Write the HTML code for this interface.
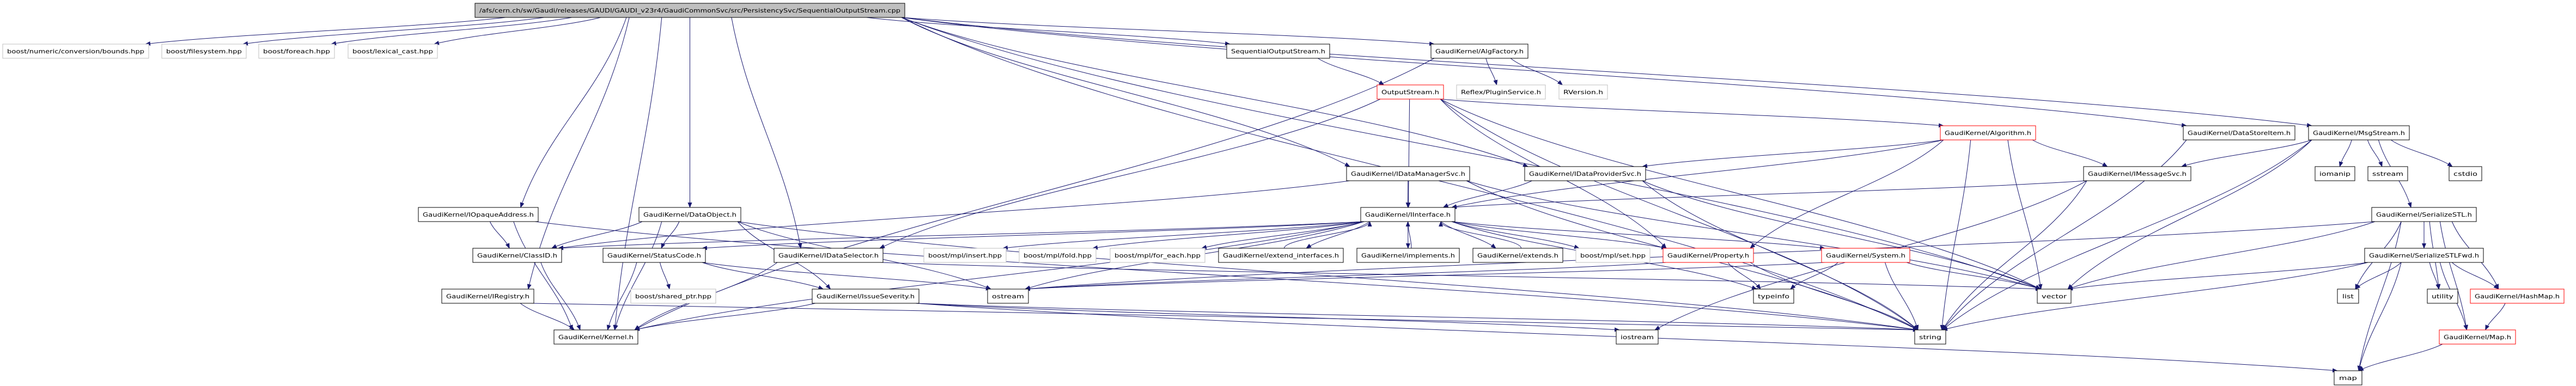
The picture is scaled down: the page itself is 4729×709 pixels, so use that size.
<!DOCTYPE html>
<html><head><meta charset="utf-8"><style>
html,body{margin:0;padding:0;background:#fff;}
svg{display:block;}
text{font-family:"DejaVu Sans","Liberation Sans",sans-serif;font-size:11px;fill:#000;}
</style></head><body>
<svg id="s" width="4729" height="709" viewBox="0 0 4729 709" xmlns="http://www.w3.org/2000/svg">
<defs><marker id="a" markerWidth="10" markerHeight="8" refX="9" refY="4" orient="auto" markerUnits="userSpaceOnUse"><path d="M0,0 L10,4 L0,8 Z" fill="#191970"/></marker></defs>
<g id="edges" fill="none" stroke="#191970" stroke-width="1"></g>
<g id="nodes">
<g id="top"><rect x="872" y="6" width="789" height="26" fill="#bfbfbf" stroke="#000"/><text x="880" y="23" textLength="773" lengthAdjust="spacingAndGlyphs">/afs/cern.ch/sw/Gaudi/releases/GAUDI/GAUDI_v23r4/GaudiCommonSvc/src/PersistencySvc/SequentialOutputStream.cpp</text></g>
<g id="bounds"><rect x="5" y="81" width="268" height="26" fill="#fff" stroke="#bfbfbf"/><text x="13" y="98" textLength="252" lengthAdjust="spacingAndGlyphs">boost/numeric/conversion/bounds.hpp</text></g>
<g id="fs"><rect x="297" y="81" width="155" height="26" fill="#fff" stroke="#bfbfbf"/><text x="305" y="98" textLength="139" lengthAdjust="spacingAndGlyphs">boost/filesystem.hpp</text></g>
<g id="fe"><rect x="475" y="81" width="139" height="26" fill="#fff" stroke="#bfbfbf"/><text x="483" y="98" textLength="123" lengthAdjust="spacingAndGlyphs">boost/foreach.hpp</text></g>
<g id="lc"><rect x="639" y="81" width="164" height="26" fill="#fff" stroke="#bfbfbf"/><text x="647" y="98" textLength="148" lengthAdjust="spacingAndGlyphs">boost/lexical_cast.hpp</text></g>
<g id="sos"><rect x="2252" y="81" width="189" height="26" fill="#fff" stroke="#000"/><text x="2260" y="98" textLength="173" lengthAdjust="spacingAndGlyphs">SequentialOutputStream.h</text></g>
<g id="af"><rect x="2627" y="81" width="178" height="26" fill="#fff" stroke="#000"/><text x="2635" y="98" textLength="162" lengthAdjust="spacingAndGlyphs">GaudiKernel/AlgFactory.h</text></g>
<g id="os"><rect x="2528" y="156" width="122" height="26" fill="#fff" stroke="#f00"/><text x="2536" y="173" textLength="106" lengthAdjust="spacingAndGlyphs">OutputStream.h</text></g>
<g id="ps"><rect x="2674" y="156" width="163" height="26" fill="#fff" stroke="#bfbfbf"/><text x="2682" y="173" textLength="147" lengthAdjust="spacingAndGlyphs">Reflex/PluginService.h</text></g>
<g id="rv"><rect x="2862" y="156" width="89" height="26" fill="#fff" stroke="#bfbfbf"/><text x="2870" y="173" textLength="73" lengthAdjust="spacingAndGlyphs">RVersion.h</text></g>
<g id="alg"><rect x="3562" y="231" width="175" height="26" fill="#fff" stroke="#f00"/><text x="3570" y="248" textLength="159" lengthAdjust="spacingAndGlyphs">GaudiKernel/Algorithm.h</text></g>
<g id="dsi"><rect x="4008" y="231" width="205" height="26" fill="#fff" stroke="#000"/><text x="4016" y="248" textLength="189" lengthAdjust="spacingAndGlyphs">GaudiKernel/DataStoreItem.h</text></g>
<g id="ms"><rect x="4238" y="231" width="185" height="26" fill="#fff" stroke="#000"/><text x="4246" y="248" textLength="169" lengthAdjust="spacingAndGlyphs">GaudiKernel/MsgStream.h</text></g>
<g id="dms"><rect x="2472" y="306" width="226" height="26" fill="#fff" stroke="#000"/><text x="2480" y="323" textLength="210" lengthAdjust="spacingAndGlyphs">GaudiKernel/IDataManagerSvc.h</text></g>
<g id="dps"><rect x="2799" y="306" width="222" height="26" fill="#fff" stroke="#000"/><text x="2807" y="323" textLength="206" lengthAdjust="spacingAndGlyphs">GaudiKernel/IDataProviderSvc.h</text></g>
<g id="msv"><rect x="3825" y="306" width="197" height="26" fill="#fff" stroke="#000"/><text x="3833" y="323" textLength="181" lengthAdjust="spacingAndGlyphs">GaudiKernel/IMessageSvc.h</text></g>
<g id="iom"><rect x="4250" y="306" width="73" height="26" fill="#fff" stroke="#000"/><text x="4258" y="323" textLength="57" lengthAdjust="spacingAndGlyphs">iomanip</text></g>
<g id="ss"><rect x="4347" y="306" width="73" height="26" fill="#fff" stroke="#000"/><text x="4355" y="323" textLength="57" lengthAdjust="spacingAndGlyphs">sstream</text></g>
<g id="cs"><rect x="4496" y="306" width="60" height="26" fill="#fff" stroke="#000"/><text x="4504" y="323" textLength="44" lengthAdjust="spacingAndGlyphs">cstdio</text></g>
<g id="ioa"><rect x="768" y="381" width="220" height="26" fill="#fff" stroke="#000"/><text x="776" y="398" textLength="204" lengthAdjust="spacingAndGlyphs">GaudiKernel/IOpaqueAddress.h</text></g>
<g id="do"><rect x="1173" y="381" width="187" height="26" fill="#fff" stroke="#000"/><text x="1181" y="398" textLength="171" lengthAdjust="spacingAndGlyphs">GaudiKernel/DataObject.h</text></g>
<g id="ii"><rect x="2498" y="381" width="173" height="26" fill="#fff" stroke="#000"/><text x="2506" y="398" textLength="157" lengthAdjust="spacingAndGlyphs">GaudiKernel/IInterface.h</text></g>
<g id="sstl"><rect x="4354" y="381" width="192" height="26" fill="#fff" stroke="#000"/><text x="4362" y="398" textLength="176" lengthAdjust="spacingAndGlyphs">GaudiKernel/SerializeSTL.h</text></g>
<g id="cid"><rect x="868" y="456" width="163" height="26" fill="#fff" stroke="#000"/><text x="876" y="473" textLength="147" lengthAdjust="spacingAndGlyphs">GaudiKernel/ClassID.h</text></g>
<g id="sc"><rect x="1107" y="456" width="188" height="26" fill="#fff" stroke="#000"/><text x="1115" y="473" textLength="172" lengthAdjust="spacingAndGlyphs">GaudiKernel/StatusCode.h</text></g>
<g id="dsel"><rect x="1421" y="456" width="200" height="26" fill="#fff" stroke="#000"/><text x="1429" y="473" textLength="184" lengthAdjust="spacingAndGlyphs">GaudiKernel/IDataSelector.h</text></g>
<g id="ins"><rect x="1696" y="456" width="151" height="26" fill="#fff" stroke="#bfbfbf"/><text x="1704" y="473" textLength="135" lengthAdjust="spacingAndGlyphs">boost/mpl/insert.hpp</text></g>
<g id="fold"><rect x="1871" y="456" width="141" height="26" fill="#fff" stroke="#bfbfbf"/><text x="1879" y="473" textLength="125" lengthAdjust="spacingAndGlyphs">boost/mpl/fold.hpp</text></g>
<g id="fore"><rect x="2038" y="456" width="174" height="26" fill="#fff" stroke="#bfbfbf"/><text x="2046" y="473" textLength="158" lengthAdjust="spacingAndGlyphs">boost/mpl/for_each.hpp</text></g>
<g id="ei"><rect x="2237" y="456" width="229" height="26" fill="#fff" stroke="#000"/><text x="2245" y="473" textLength="213" lengthAdjust="spacingAndGlyphs">GaudiKernel/extend_interfaces.h</text></g>
<g id="imp"><rect x="2491" y="456" width="188" height="26" fill="#fff" stroke="#000"/><text x="2499" y="473" textLength="172" lengthAdjust="spacingAndGlyphs">GaudiKernel/implements.h</text></g>
<g id="ext"><rect x="2704" y="456" width="165" height="26" fill="#fff" stroke="#000"/><text x="2712" y="473" textLength="149" lengthAdjust="spacingAndGlyphs">GaudiKernel/extends.h</text></g>
<g id="set"><rect x="2893" y="456" width="136" height="26" fill="#fff" stroke="#bfbfbf"/><text x="2901" y="473" textLength="120" lengthAdjust="spacingAndGlyphs">boost/mpl/set.hpp</text></g>
<g id="prop"><rect x="3053" y="456" width="166" height="26" fill="#fff" stroke="#f00"/><text x="3061" y="473" textLength="150" lengthAdjust="spacingAndGlyphs">GaudiKernel/Property.h</text></g>
<g id="sys"><rect x="3344" y="456" width="162" height="26" fill="#fff" stroke="#f00"/><text x="3352" y="473" textLength="146" lengthAdjust="spacingAndGlyphs">GaudiKernel/System.h</text></g>
<g id="fwd"><rect x="4341" y="456" width="218" height="26" fill="#fff" stroke="#000"/><text x="4349" y="473" textLength="202" lengthAdjust="spacingAndGlyphs">GaudiKernel/SerializeSTLFwd.h</text></g>
<g id="reg"><rect x="811" y="531" width="169" height="26" fill="#fff" stroke="#000"/><text x="819" y="548" textLength="153" lengthAdjust="spacingAndGlyphs">GaudiKernel/IRegistry.h</text></g>
<g id="sp"><rect x="1158" y="531" width="156" height="26" fill="#fff" stroke="#bfbfbf"/><text x="1166" y="548" textLength="140" lengthAdjust="spacingAndGlyphs">boost/shared_ptr.hpp</text></g>
<g id="isv"><rect x="1491" y="531" width="196" height="26" fill="#fff" stroke="#000"/><text x="1499" y="548" textLength="180" lengthAdjust="spacingAndGlyphs">GaudiKernel/IssueSeverity.h</text></g>
<g id="ost"><rect x="1813" y="531" width="75" height="26" fill="#fff" stroke="#000"/><text x="1821" y="548" textLength="59" lengthAdjust="spacingAndGlyphs">ostream</text></g>
<g id="ti"><rect x="3219" y="531" width="74" height="26" fill="#fff" stroke="#000"/><text x="3227" y="548" textLength="58" lengthAdjust="spacingAndGlyphs">typeinfo</text></g>
<g id="vec"><rect x="3740" y="531" width="62" height="26" fill="#fff" stroke="#000"/><text x="3748" y="548" textLength="46" lengthAdjust="spacingAndGlyphs">vector</text></g>
<g id="lst"><rect x="4291" y="531" width="39" height="26" fill="#fff" stroke="#000"/><text x="4300" y="548" textLength="21" lengthAdjust="spacingAndGlyphs">list</text></g>
<g id="ut"><rect x="4456" y="531" width="56" height="26" fill="#fff" stroke="#000"/><text x="4464" y="548" textLength="40" lengthAdjust="spacingAndGlyphs">utility</text></g>
<g id="hm"><rect x="4535" y="531" width="172" height="26" fill="#fff" stroke="#f00"/><text x="4543" y="548" textLength="156" lengthAdjust="spacingAndGlyphs">GaudiKernel/HashMap.h</text></g>
<g id="ker"><rect x="1017" y="606" width="154" height="26" fill="#fff" stroke="#000"/><text x="1025" y="623" textLength="138" lengthAdjust="spacingAndGlyphs">GaudiKernel/Kernel.h</text></g>
<g id="ios"><rect x="2967" y="606" width="77" height="26" fill="#fff" stroke="#000"/><text x="2975" y="623" textLength="61" lengthAdjust="spacingAndGlyphs">iostream</text></g>
<g id="str"><rect x="3515" y="606" width="57" height="26" fill="#fff" stroke="#000"/><text x="3523" y="623" textLength="41" lengthAdjust="spacingAndGlyphs">string</text></g>
<g id="mp"><rect x="4478" y="606" width="140" height="26" fill="#fff" stroke="#f00"/><text x="4486" y="623" textLength="124" lengthAdjust="spacingAndGlyphs">GaudiKernel/Map.h</text></g>
<g id="map"><rect x="4285" y="681" width="51" height="26" fill="#fff" stroke="#000"/><text x="4294" y="698" textLength="33" lengthAdjust="spacingAndGlyphs">map</text></g>
</g>
</svg>
<script>
(function(){
var E=[
"top bounds","top fs","top fe","top lc","top ioa","top reg","top ker","top do","top dsel","top sos","top af","top dps","top dms","top dsi","top ms","top str","top vec",
"sos os","af ps","af rv","af ker",
"os alg","os prop","os vec","os str","os dsel","os ii",
"alg dps","alg msv","alg prop","alg str","alg vec","alg ii",
"ms msv","ms iom","ms ss","ms cs","ms sstl","ms vec","ms str",
"dsi str","msv ii","msv str","msv ios",
"dms ii","dms cid","dms str","dms vec","dps ii","dps str","dps vec",
"ii ins","ii fold","ii fore","ii ei","ii imp","ii ext","ii set","ii prop","ii sys","ii ti","ii ost","ii ker","ii sc","ii cid",
"ei ii","imp ii","ext ii",
"ioa cid","ioa ker","ioa str","do cid","do sc","do isv","do ker","do str","do ost",
"cid ker","sc ker","sc sp","sc isv","sc ost","dsel ker","dsel vec","reg ker","reg str",
"isv ker","isv map","isv str","isv ios",
"prop ti","prop str","prop ost","sys ti","sys str","sys vec","sys ost",
"sstl fwd","sstl vec","sstl lst","sstl map","sstl ut","sstl hm","sstl mp","sstl ost",
"fwd lst","fwd ut","fwd hm","fwd mp","fwd map","fwd vec","fwd str",
"hm mp","mp map"];
function R(id){var r=document.querySelector('#'+id+' rect');var x=+r.getAttribute('x'),y=+r.getAttribute('y'),w=+r.getAttribute('width'),h=+r.getAttribute('height');return{x:x,y:y,w:w,h:h,cx:x+w/2};}
function cl(v,a,b){return Math.max(a,Math.min(b,v));}
var g=document.getElementById('edges'),ns='http://www.w3.org/2000/svg';
E.forEach(function(e){var p=e.split(' '),s=R(p[0]),t=R(p[1]),d;
 if(t.y>s.y){var sx=s.cx+cl((t.cx-s.cx)*0.3,-s.w/2+6,s.w/2-6),sy=s.y+s.h;
  var tx=t.cx+cl((s.cx-t.cx)*0.2,-t.w/2+6,t.w/2-6),ty=t.y;var dy=ty-sy,dx=tx-sx;
  d='M'+sx+','+sy+' C'+(sx+dx*0.25)+','+(sy+dy*0.4)+' '+(sx+dx*0.75)+','+(ty-dy*0.4)+' '+tx+','+ty;}
 else{var sx=s.cx+6,sy=s.y,tx=t.cx+cl((s.cx-t.cx)*0.3,-t.w/2+6,t.w/2-6),ty=t.y+t.h;var dy=sy-ty;
  d='M'+sx+','+sy+' C'+sx+','+(sy-dy*0.4)+' '+tx+','+(ty+dy*0.4)+' '+tx+','+ty;}
 var pa=document.createElementNS(ns,'path');pa.setAttribute('d',d);pa.setAttribute('marker-end','url(#a)');g.appendChild(pa);});
})();
</script>
</body></html>
